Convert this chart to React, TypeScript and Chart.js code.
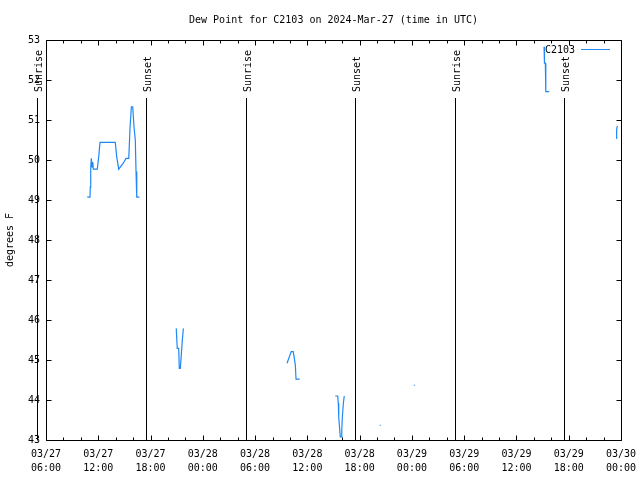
import React, { useEffect, useRef } from 'react';
import { Chart, registerables } from 'chart.js';

Chart.register(...registerables);

const TITLE = 'Dew Point for C2103 on 2024-Mar-27 (time in UTC)';
const SERIES_LABEL = 'C2103';
const Y_TITLE = 'degrees F';
const X_START = '2024-03-27T06:00';
const X_END = '2024-03-30T00:00';
const Y_MIN = 43;
const Y_MAX = 53;
const LINE_COLOR = '#1e88f5';
const FONT = 'DejaVu Sans Mono';

// observation times (UTC) and dew point values (°F); null = gap in record
const obsTimes = [
  '2024-03-27T10:44', '2024-03-27T11:03', '2024-03-27T11:05', '2024-03-27T11:08', '2024-03-27T11:12',
  '2024-03-27T11:17', '2024-03-27T11:22', '2024-03-27T11:26', '2024-03-27T11:53', '2024-03-27T12:03',
  '2024-03-27T12:12', '2024-03-27T13:57', '2024-03-27T14:07', '2024-03-27T14:21', '2024-03-27T14:52',
  '2024-03-27T15:11', '2024-03-27T15:30', '2024-03-27T15:39', '2024-03-27T15:48', '2024-03-27T15:57',
  '2024-03-27T16:06', '2024-03-27T16:15', '2024-03-27T16:20', '2024-03-27T16:25', '2024-03-27T16:43',
  '2024-03-27T18:00',
  '2024-03-27T20:57', '2024-03-27T21:04', '2024-03-27T21:14', '2024-03-27T21:18', '2024-03-27T21:25',
  '2024-03-27T21:35', '2024-03-27T21:39', '2024-03-27T21:46',
  '2024-03-28T03:00',
  '2024-03-28T09:40', '2024-03-28T10:09', '2024-03-28T10:23', '2024-03-28T10:37', '2024-03-28T10:42',
  '2024-03-28T11:07',
  '2024-03-28T13:00',
  '2024-03-28T15:12', '2024-03-28T15:29', '2024-03-28T15:33', '2024-03-28T15:36', '2024-03-28T15:43',
  '2024-03-28T15:47', '2024-03-28T15:52', '2024-03-28T15:57', '2024-03-28T16:01', '2024-03-28T16:08',
  '2024-03-28T16:14',
  '2024-03-28T18:00',
  '2024-03-28T20:22',
  '2024-03-28T22:00',
  '2024-03-29T00:17',
  '2024-03-29T08:00',
  '2024-03-29T15:10', '2024-03-29T15:12', '2024-03-29T15:14', '2024-03-29T15:19', '2024-03-29T15:21',
  '2024-03-29T15:23', '2024-03-29T15:46',
  '2024-03-29T20:00',
  '2024-03-29T23:27', '2024-03-29T23:28', '2024-03-29T23:32', '2024-03-29T23:34',
];

const dewPoints: (number | null)[] = [
  49.07, 49.07, 49.32, 49.79, 50.04,
  49.83, 49.95, 49.77, 49.77, 50.08,
  50.44, 50.44, 50.08, 49.77, 49.92,
  50.04, 50.04, 50.83, 51.33, 51.33,
  50.83, 50.5, 49.71, 49.07, 49.07,
  null,
  45.79, 45.29, 45.29, 44.79, 44.79,
  45.29, 45.5, 45.79,
  null,
  44.92, 45.21, 45.21, 44.88, 44.52,
  44.52,
  null,
  44.1, 44.1, 43.92, 43.58, 43.25,
  43.08, 43.08, 43.25, 43.58, 43.92,
  44.1,
  null,
  43.37,
  null,
  44.37,
  null,
  52.83, 52.67, 52.42, 52.42, 51.92,
  51.71, 51.71,
  null,
  50.54, 50.68, 50.75, 50.85,
];

const sunTimes = [
  '2024-03-27T04:58', '2024-03-27T17:29',
  '2024-03-28T04:59', '2024-03-28T17:29',
  '2024-03-29T05:00', '2024-03-29T17:28',
];
const sunLabels = ['Sunrise', 'Sunset', 'Sunrise', 'Sunset', 'Sunrise', 'Sunset'];

const toMs = (s: string) => new Date(s + ':00Z').getTime();
const START_MS = toMs(X_START);
const hoursOf = (s: string) => (toMs(s) - START_MS) / 3600000;
const pad2 = (n: number) => String(n).padStart(2, '0');

function formatTick(h: number): string[] | string {
  if (Math.abs(h % 6) > 1e-6) return '';
  const d = new Date(START_MS + h * 3600000);
  return [
    `${pad2(d.getUTCMonth() + 1)}/${pad2(d.getUTCDate())}`,
    `${pad2(d.getUTCHours())}:${pad2(d.getUTCMinutes())}`,
  ];
}

const framePlugin = {
  id: 'frameAndExtras',
  afterDraw(chart: any) {
    const { ctx, chartArea, scales } = chart;
    const xs = scales.x;
    const ys = scales.y;
    const L = chartArea.left + 0.5;
    const R = chartArea.right + 0.5;
    const T = chartArea.top + 0.5;
    const B = chartArea.bottom + 0.5;
    ctx.save();
    ctx.strokeStyle = '#000';
    ctx.lineWidth = 1;
    ctx.beginPath();
    ctx.rect(L, T, R - L, B - T);
    ctx.stroke();
    ctx.beginPath();
    xs.ticks.forEach((t: any) => {
      const x = Math.round(xs.getPixelForValue(t.value)) + 0.5;
      const len = Math.abs(t.value % 6) < 1e-6 ? 5 : 3;
      ctx.moveTo(x, B);
      ctx.lineTo(x, B - len);
      ctx.moveTo(x, T);
      ctx.lineTo(x, T + len);
    });
    ys.ticks.forEach((t: any) => {
      const y = Math.round(ys.getPixelForValue(t.value)) + 0.5;
      ctx.moveTo(L, y);
      ctx.lineTo(L + 5, y);
      ctx.moveTo(R, y);
      ctx.lineTo(R - 5, y);
    });
    ctx.stroke();
    ctx.font = `10px "${FONT}"`;
    ctx.fillStyle = '#000';
    sunTimes.forEach((s, i) => {
      const x = Math.round(xs.getPixelForValue(hoursOf(s))) + 0.5;
      ctx.beginPath();
      ctx.moveTo(x, 98);
      ctx.lineTo(x, B);
      ctx.stroke();
      ctx.save();
      ctx.translate(x + 1.5, 92);
      ctx.rotate(-Math.PI / 2);
      ctx.textAlign = 'left';
      ctx.textBaseline = 'middle';
      ctx.fillText(sunLabels[i], 0, 0);
      ctx.restore();
    });
    ctx.textAlign = 'right';
    ctx.textBaseline = 'middle';
    ctx.fillText(SERIES_LABEL, 575, 50);
    ctx.strokeStyle = LINE_COLOR;
    ctx.beginPath();
    ctx.moveTo(581, 49.5);
    ctx.lineTo(610, 49.5);
    ctx.stroke();
    ctx.restore();
  },
};

export default function App() {
  const canvasRef = useRef<HTMLCanvasElement | null>(null);

  useEffect(() => {
    const canvas = canvasRef.current;
    if (!canvas) return;
    const data = obsTimes.map((t, i) => ({ x: hoursOf(t), y: dewPoints[i] }));
    const isolated = (i: number) =>
      dewPoints[i] != null && dewPoints[i - 1] == null && dewPoints[i + 1] == null;
    const chart = new Chart(canvas, {
      type: 'line',
      data: {
        datasets: [
          {
            label: SERIES_LABEL,
            data,
            borderColor: LINE_COLOR,
            backgroundColor: LINE_COLOR,
            borderWidth: 1.2,
            tension: 0,
            spanGaps: false,
            pointStyle: 'rect',
            pointRadius: (c: any) => (isolated(c.dataIndex) ? 0.8 : 0),
            pointBorderWidth: 0,
          } as any,
        ],
      },
      options: {
        animation: false,
        responsive: false,
        events: [],
        layout: { padding: { left: 0, right: 19, top: 0, bottom: 0 } },
        plugins: {
          legend: { display: false },
          tooltip: { enabled: false },
          title: {
            display: true,
            text: TITLE,
            fullSize: false,
            color: '#000',
            font: { family: FONT, size: 10, weight: 'normal' },
            padding: { top: 14, bottom: 14 },
          },
        },
        scales: {
          x: {
            type: 'linear',
            min: 0,
            max: hoursOf(X_END),
            grid: { display: false, drawTicks: false },
            border: { display: false },
            afterFit: (s: any) => {
              s.height = 40;
              s.paddingLeft = 0;
              s.paddingRight = 0;
            },
            ticks: {
              stepSize: 2,
              autoSkip: false,
              maxRotation: 0,
              minRotation: 0,
              padding: 7,
              color: '#000',
              font: { family: FONT, size: 10, lineHeight: 1.4 },
              callback: (v: any) => formatTick(Number(v)),
            },
          },
          y: {
            type: 'linear',
            min: Y_MIN,
            max: Y_MAX,
            grid: { display: false, drawTicks: false },
            border: { display: false },
            afterFit: (s: any) => {
              s.width = 46;
              s.paddingTop = 0;
              s.paddingBottom = 0;
            },
            title: {
              display: true,
              text: Y_TITLE,
              color: '#000',
              font: { family: FONT, size: 10 },
              padding: { top: 4, bottom: 0 },
            },
            ticks: {
              stepSize: 1,
              padding: 6,
              color: '#000',
              font: { family: FONT, size: 10 },
            },
          },
        },
      },
      plugins: [framePlugin],
    } as any);
    return () => chart.destroy();
  }, []);

  return (
    <div style={{ position: 'fixed', left: 0, top: 0, width: 640, height: 480, background: '#fff' }}>
      <canvas ref={canvasRef} width={640} height={480} />
    </div>
  );
}
